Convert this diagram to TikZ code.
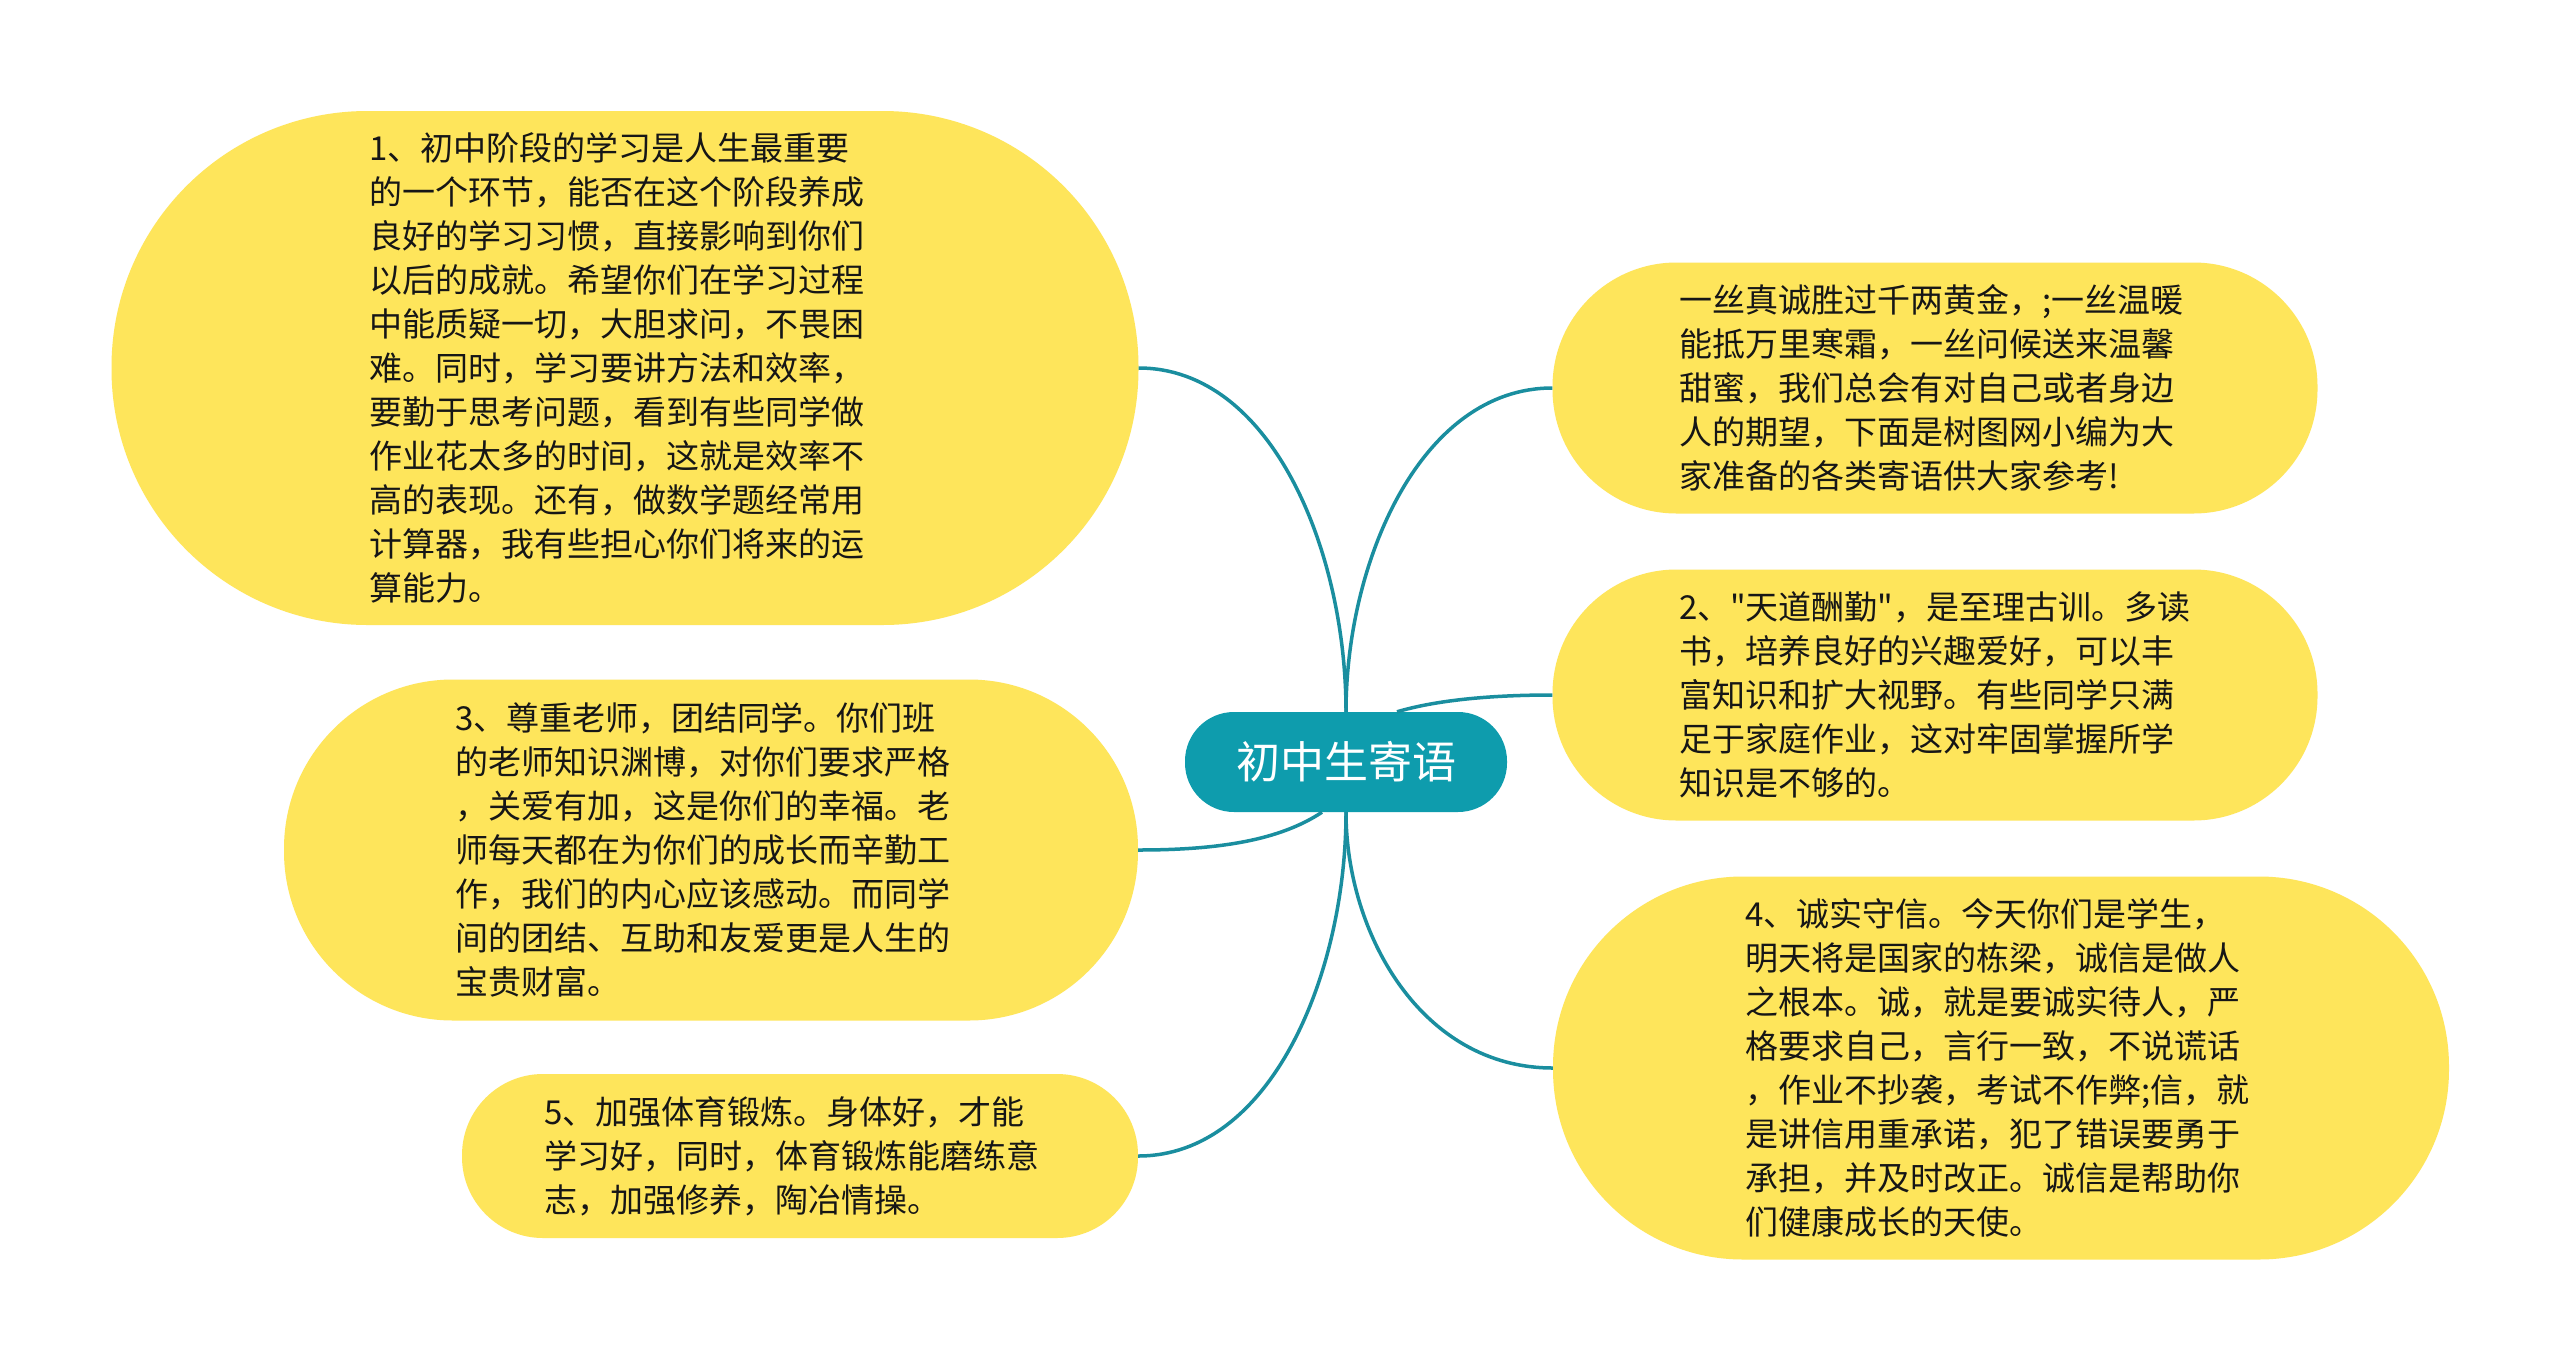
\documentclass[tikz,border=0pt]{standalone}
\usepackage{fontspec}
\newfontfamily\cjk{Noto Sans CJK SC}
\definecolor{leafyellow}{HTML}{FEE55B}
\definecolor{rootteal}{HTML}{0E9CAD}
\definecolor{linkteal}{HTML}{1A8E9F}
\definecolor{inkdark}{HTML}{161616}
\begin{document}
\begin{tikzpicture}[x=1pt,y=-1pt,
  leaf/.style={draw=none,fill=leafyellow,text=inkdark,inner xsep=0pt,inner ysep=0pt,
    text width=512pt,align=left,font=\cjk\fontsize{33pt}{44pt}\selectfont},
  rootbox/.style={draw=none,fill=rootteal,text=white,inner sep=0pt,
    minimum width=322pt,minimum height=100pt,rounded corners=49pt,
    font=\cjk\fontsize{44pt}{50pt}\selectfont},
  link/.style={draw=linkteal,line width=3.5pt}]
\useasboundingbox (0,0) rectangle (2560,1371);
\fill[white] (0,0) rectangle (2560,1371);

\node[rootbox] (root) at (1346,762) {初中生寄语};

\node[leaf,minimum width=1027pt,minimum height=514pt,rounded corners=256pt] (n1) at (625,368) {%
1、初中阶段的学习是人生最重要\\
的一个环节，能否在这个阶段养成\\
良好的学习习惯，直接影响到你们\\
以后的成就。希望你们在学习过程\\
中能质疑一切，大胆求问，不畏困\\
难。同时，学习要讲方法和效率，\\
要勤于思考问题，看到有些同学做\\
作业花太多的时间，这就是效率不\\
高的表现。还有，做数学题经常用\\
计算器，我有些担心你们将来的运\\
算能力。};

\node[leaf,minimum width=765pt,minimum height=251pt,rounded corners=124pt] (n2) at (1935,388) {%
一丝真诚胜过千两黄金，;一丝温暖\\
能抵万里寒霜，一丝问候送来温馨\\
甜蜜，我们总会有对自己或者身边\\
人的期望，下面是树图网小编为大\\
家准备的各类寄语供大家参考!};

\node[leaf,minimum width=765pt,minimum height=251pt,rounded corners=124pt] (n3) at (1935,695) {%
2、"天道酬勤"，是至理古训。多读\\
书，培养良好的兴趣爱好，可以丰\\
富知识和扩大视野。有些同学只满\\
足于家庭作业，这对牢固掌握所学\\
知识是不够的。};

\node[leaf,minimum width=854pt,minimum height=341pt,rounded corners=169pt] (l3) at (711,850) {%
3、尊重老师，团结同学。你们班\\
的老师知识渊博，对你们要求严格\\
，关爱有加，这是你们的幸福。老\\
师每天都在为你们的成长而辛勤工\\
作，我们的内心应该感动。而同学\\
间的团结、互助和友爱更是人生的\\
宝贵财富。};

\node[leaf,minimum width=896pt,minimum height=383pt,rounded corners=190pt] (n4) at (2001,1068) {%
4、诚实守信。今天你们是学生，\\
明天将是国家的栋梁，诚信是做人\\
之根本。诚，就是要诚实待人，严\\
格要求自己，言行一致，不说谎话\\
，作业不抄袭，考试不作弊;信，就\\
是讲信用重承诺，犯了错误要勇于\\
承担，并及时改正。诚信是帮助你\\
们健康成长的天使。};

\node[leaf,minimum width=676pt,minimum height=164pt,rounded corners=81pt] (l5) at (800,1156) {%
5、加强体育锻炼。身体好，才能\\
学习好，同时，体育锻炼能磨练意\\
志，加强修养，陶冶情操。};

\draw[link] (root.north) .. controls (1346,550) and (1271,368) .. (n1.east);
\draw[link] (root.north) .. controls (1346,561) and (1421,388) .. (n2.west);
\draw[link] ([xshift=51pt]root.north) .. controls (1430,702) and (1480,695) .. (n3.west);
\draw[link] ([xshift=-24pt]root.south) .. controls (1280,840) and (1220,850) .. (l3.east);
\draw[link] (root.south) .. controls (1346,974) and (1271,1156) .. (l5.east);
\draw[link] (root.south) .. controls (1346,933) and (1421,1068) .. (n4.west);
\end{tikzpicture}
\end{document}
